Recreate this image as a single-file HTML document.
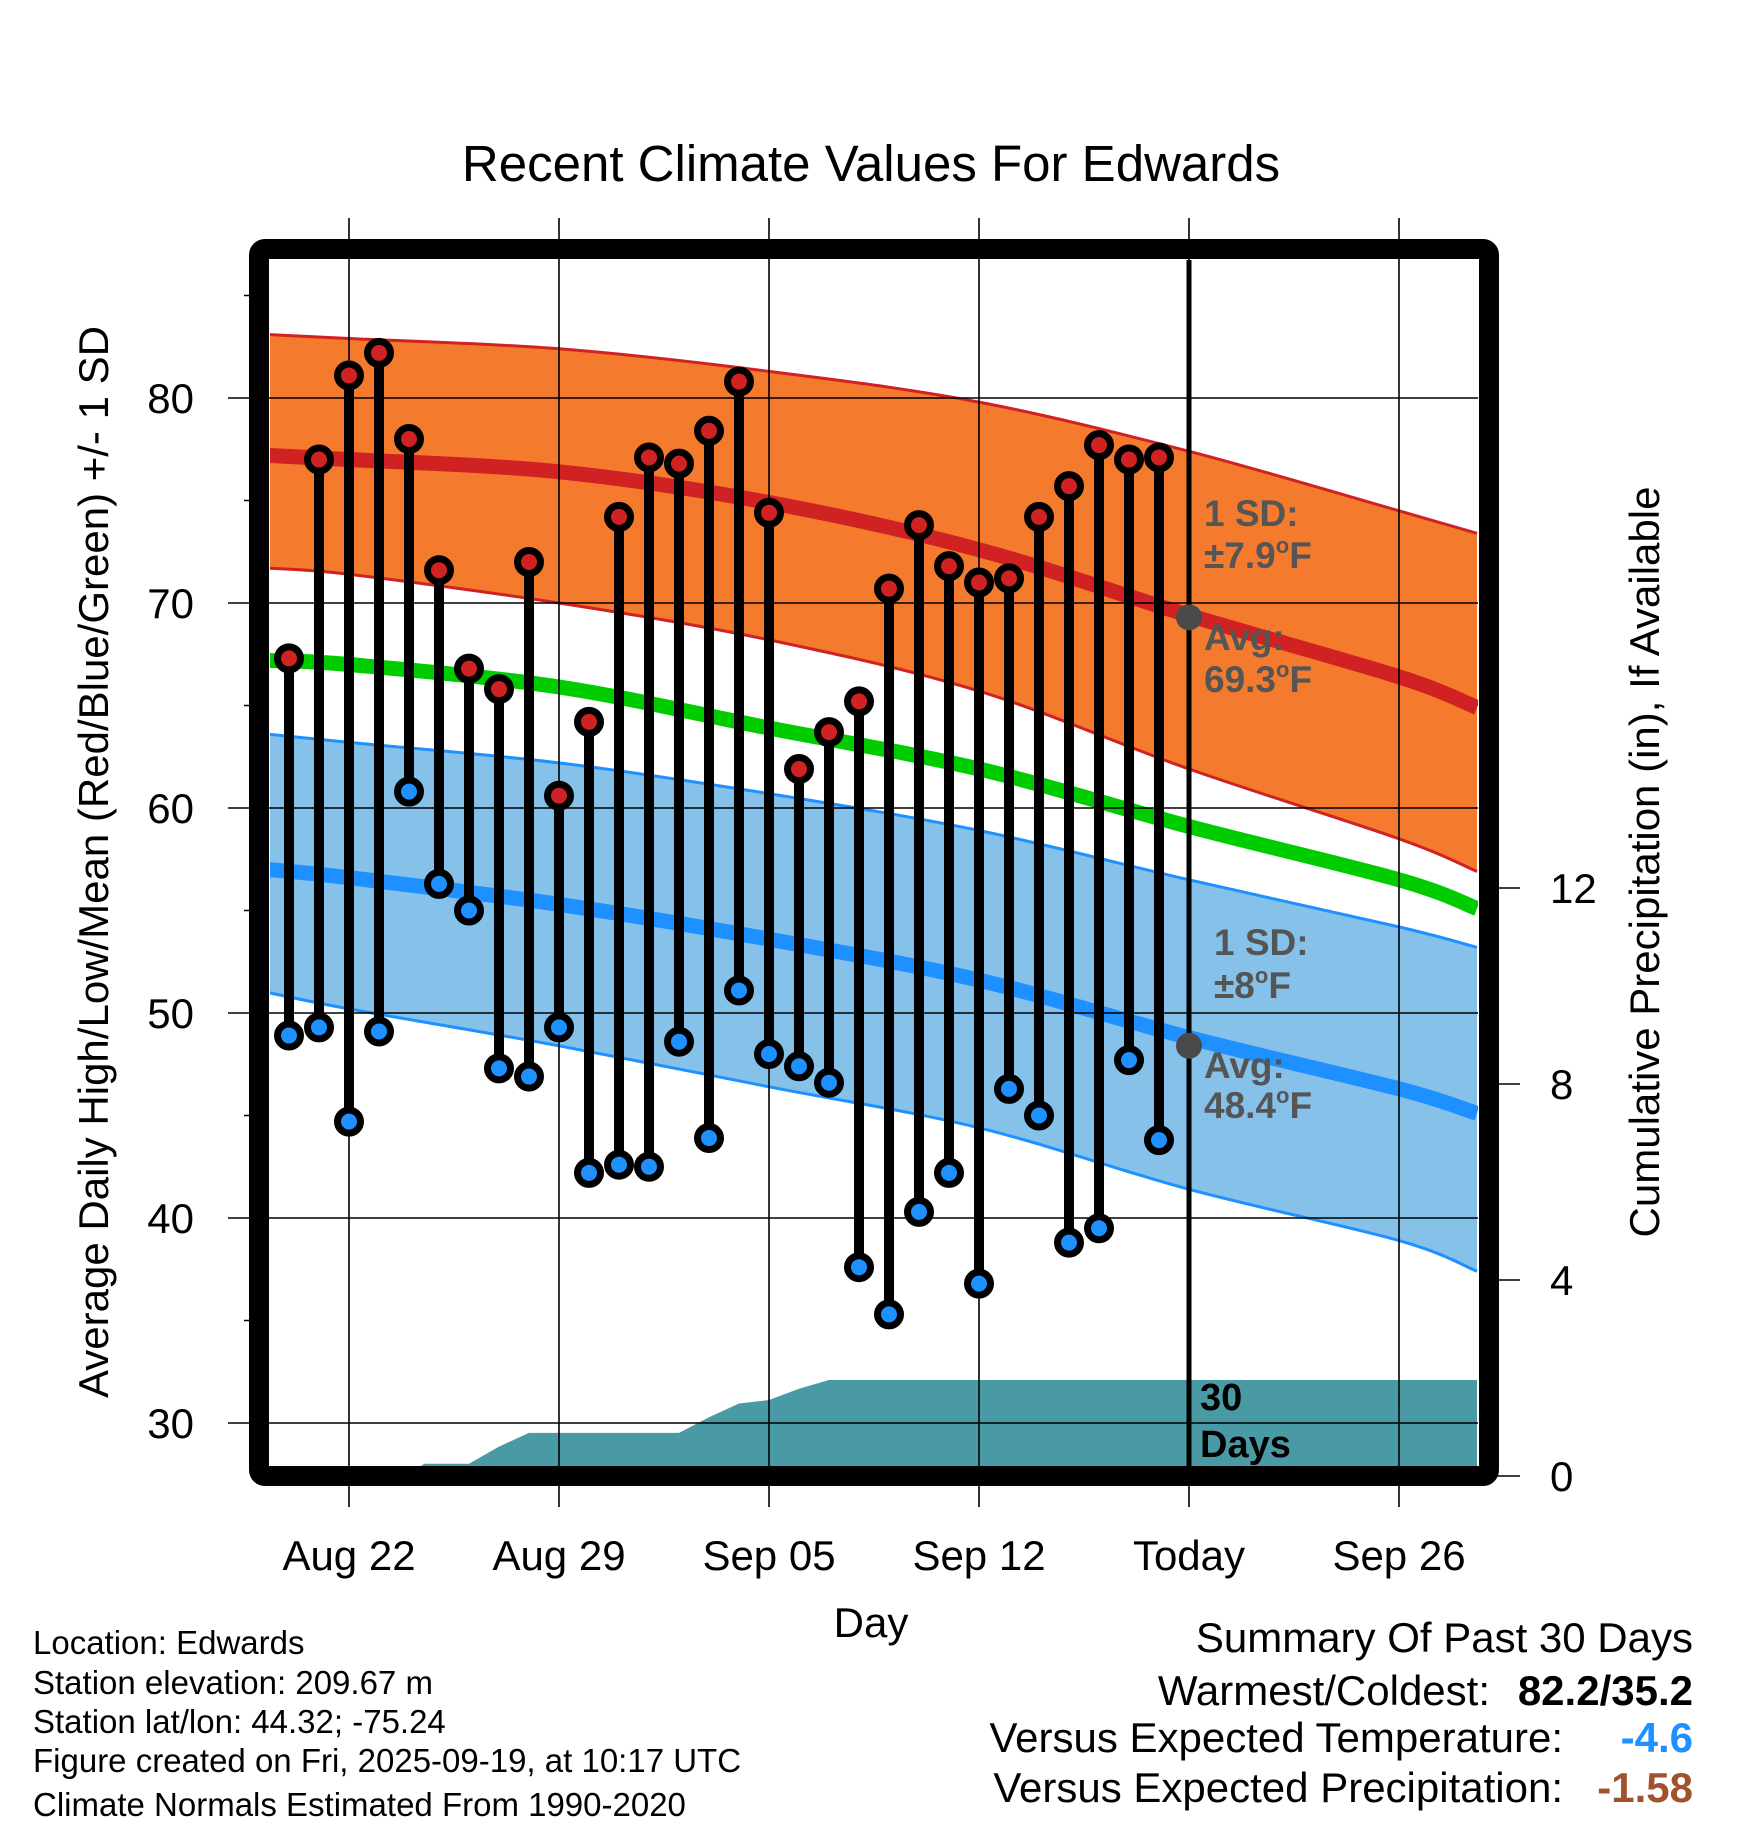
<!DOCTYPE html>
<html><head><meta charset="utf-8"><style>
html,body{margin:0;padding:0;background:#fff;}
svg{display:block;font-family:"Liberation Sans",Arial,sans-serif;}
</style></head><body>
<svg id="chart" width="1748" height="1828" viewBox="0 0 1748 1828" xmlns="http://www.w3.org/2000/svg">
<text x="871" y="181" font-size="51" text-anchor="middle">Recent Climate Values For Edwards</text>
<g id="layer"></g>
</svg>
<script>
const dayOffsets = [-2,-1,0,1,2,3,4,5,6,7,8,9,10,11,12,13,14,15,16,17,18,19,20,21,22,23,24,25,26,27];
const highs = [67.3,77.0,81.1,82.2,78.0,71.6,66.8,65.8,72.0,60.6,64.2,74.2,77.1,76.8,78.4,80.8,74.4,61.9,63.7,65.2,70.7,73.8,71.8,71.0,71.2,74.2,75.7,77.7,77.0,77.1];
const lows = [48.9,49.3,44.7,49.1,60.8,56.3,55.0,47.3,46.9,49.3,42.2,42.6,42.5,48.6,43.9,51.1,48.0,47.4,46.6,37.6,35.3,40.3,42.2,36.8,46.3,45.0,38.8,39.5,47.7,43.8];
const normDays = [-2.7,0,7,14,21,28,35,37.6];
const highAvg = [77.2,77.0,76.4,74.9,72.6,69.4,66.4,64.9];
const highUpper = [83.1,82.9,82.4,81.3,79.8,77.4,74.5,73.4];
const highLower = [71.7,71.4,70.0,68.2,65.7,61.9,58.5,56.9];
const meanAvg = [67.2,67.0,65.9,63.9,61.9,59.1,56.5,55.1];
const lowAvg = [57.0,56.6,55.3,53.6,51.6,48.8,46.3,45.1];
const lowUpper = [63.6,63.2,62.2,60.7,58.9,56.5,54.2,53.2];
const lowLower = [51.0,50.2,48.4,46.4,44.4,41.4,38.9,37.4];
const precipDays = [-2.7,-2,-1,0,1,2,2.5,3,4,5,6,7,8,9,10,11,12,13,14,15,16,17,37.6];
const precipCum = [0,0,0,0,0,0,0.25,0.25,0.25,0.6,0.88,0.88,0.88,0.88,0.88,0.88,1.2,1.48,1.55,1.78,1.96,1.96,1.96];
const tempTicks = [30,40,50,60,70,80];
const precipTicks = [0,4,8,12];
const xTickDays = [0,7,14,21,28,35];
const xTickLabels = ["Aug 22","Aug 29","Sep 05","Sep 12","Today","Sep 26"];
const todayDay = 28;

const NS="http://www.w3.org/2000/svg";
const L=270,R=1478,T=260,B=1466;
function xs(d){return 349+30*d;}
function ys(t){return 398+(80-t)*20.5;}
function yp(v){return 1476-v*49;}
const layer=document.getElementById('layer');
function el(tag,attrs,parent){const e=document.createElementNS(NS,tag);for(const k in attrs)e.setAttribute(k,attrs[k]);(parent||layer).appendChild(e);return e;}
function pts(ds,vs){return ds.map((d,i)=>[xs(d),ys(vs[i])]);}
function smooth(p,start){let s=(start?'M':'L')+p[0][0].toFixed(1)+','+p[0][1].toFixed(1);
  for(let i=0;i<p.length-1;i++){const p0=p[Math.max(0,i-1)],p1=p[i],p2=p[i+1],p3=p[Math.min(p.length-1,i+2)];
    const c1=[p1[0]+(p2[0]-p0[0])/6,p1[1]+(p2[1]-p0[1])/6],c2=[p2[0]-(p3[0]-p1[0])/6,p2[1]-(p3[1]-p1[1])/6];
    s+=' C'+c1[0].toFixed(1)+','+c1[1].toFixed(1)+' '+c2[0].toFixed(1)+','+c2[1].toFixed(1)+' '+p2[0].toFixed(1)+','+p2[1].toFixed(1);}
  return s;}
function line(ds,vs){return smooth(pts(ds,vs),true);}
function band(ds,up,lo){return line(ds,up)+' '+smooth(pts(ds,lo).reverse(),false)+' Z';}

const defs=el('defs',{});
const cp=el('clipPath',{id:'clip'},defs);
el('rect',{x:L,y:T,width:R-L,height:B-T},cp);
const g=el('g',{'clip-path':'url(#clip)'});

let e;
e=el('path',{d:band(normDays,highUpper,highLower),fill:'#f47a2e',stroke:'none'},g);


e=el('path',{d:line(normDays,highUpper),fill:'none',stroke:'#d02222','stroke-width':3},g);


e=el('path',{d:line(normDays,highLower),fill:'none',stroke:'#d02222','stroke-width':3},g);


e=el('path',{d:band(normDays,lowUpper,lowLower),fill:'#85c1e9',stroke:'none'},g);


e=el('path',{d:line(normDays,lowUpper),fill:'none',stroke:'#1e90ff','stroke-width':3},g);


e=el('path',{d:line(normDays,lowLower),fill:'none',stroke:'#1e90ff','stroke-width':3},g);



let pp='M'+xs(precipDays[0])+','+(B+10);
precipDays.forEach((d,i)=>{pp+=' L'+xs(d).toFixed(1)+','+yp(precipCum[i]).toFixed(1);});
pp+=' L'+xs(precipDays[precipDays.length-1])+','+(B+10)+' Z';
e=el('path',{d:pp,fill:'#4a9aa5'},g);



e=el('path',{d:line(normDays,highAvg),fill:'none',stroke:'#d02222','stroke-width':15},g);


e=el('path',{d:line(normDays,meanAvg),fill:'none',stroke:'#00cc00','stroke-width':15},g);


e=el('path',{d:line(normDays,lowAvg),fill:'none',stroke:'#1e90ff','stroke-width':15},g);



tempTicks.forEach(t=>{
  e=el('line',{x1:228,x2:R,y1:ys(t),y2:ys(t),stroke:'#000','stroke-width':1.6});
  
  
  e=el('text',{x:194,y:ys(t)+15,'font-size':42,'text-anchor':'end'});
  e.textContent=t;
  
  
});
for(let t=35;t<=85;t+=10){
  e=el('line',{x1:244,x2:262,y1:ys(t),y2:ys(t),stroke:'#000','stroke-width':1.6});
  
  
}
xTickDays.forEach((d,i)=>{
  e=el('line',{x1:xs(d),x2:xs(d),y1:218,y2:1507,stroke:'#000','stroke-width':1.6});
  
  
  e=el('text',{x:xs(d),y:1570,'font-size':42,'text-anchor':'middle'});
  e.textContent=xTickLabels[i];
  
  
});
precipTicks.forEach(v=>{
  e=el('line',{x1:1489,x2:1520,y1:yp(v),y2:yp(v),stroke:'#000','stroke-width':1.6});
  
  
  e=el('text',{x:1550,y:yp(v)+15,'font-size':42});
  e.textContent=v;
  
  
});

e=el('line',{x1:xs(todayDay),x2:xs(todayDay),y1:T,y2:B,stroke:'#000','stroke-width':5});



dayOffsets.forEach((d,i)=>{
  e=el('line',{x1:xs(d),x2:xs(d),y1:ys(highs[i]),y2:ys(lows[i]),stroke:'#000','stroke-width':10});
  
  
});
dayOffsets.forEach((d,i)=>{
  e=el('circle',{cx:xs(d),cy:ys(highs[i]),r:11.5,fill:'#d02222',stroke:'#000','stroke-width':7});
  
  
  e=el('circle',{cx:xs(d),cy:ys(lows[i]),r:11.5,fill:'#1e90ff',stroke:'#000','stroke-width':7});
  
  
});

e=el('circle',{cx:xs(todayDay),cy:ys(69.3),r:13,fill:'#4a4a4a'});


e=el('circle',{cx:xs(todayDay),cy:ys(48.4),r:13,fill:'#4a4a4a'});



e=el('rect',{x:259,y:249,width:1230,height:1227,fill:'none',stroke:'#000','stroke-width':20,rx:6});


</script>
<svg style="position:absolute;left:0;top:0" width="1748" height="1828" xmlns="http://www.w3.org/2000/svg" font-family="Liberation Sans, Arial, sans-serif">
<g font-weight="bold" font-size="37" fill="#555">
<text x="1204" y="526">1 SD:</text>
<text x="1204" y="568">±7.9<tspan font-size="22" dy="-15">o</tspan><tspan dy="15">F</tspan></text>
<text x="1204" y="650">Avg:</text>
<text x="1204" y="692">69.3<tspan font-size="22" dy="-15">o</tspan><tspan dy="15">F</tspan></text>
<text x="1214" y="955">1 SD:</text>
<text x="1214" y="998">±8<tspan font-size="22" dy="-15">o</tspan><tspan dy="15">F</tspan></text>
<text x="1204" y="1078">Avg:</text>
<text x="1204" y="1118">48.4<tspan font-size="22" dy="-15">o</tspan><tspan dy="15">F</tspan></text>
</g>
<g font-weight="bold" font-size="38" fill="#000">
<text x="1200" y="1410">30</text>
<text x="1200" y="1457">Days</text>
</g>
<text x="871" y="1637" font-size="42" text-anchor="middle">Day</text>
<text transform="translate(108,862) rotate(-90)" font-size="42" text-anchor="middle">Average Daily High/Low/Mean (Red/Blue/Green) +/- 1 SD</text>
<text transform="translate(1659,862) rotate(-90)" font-size="42" text-anchor="middle">Cumulative Precipitation (in), If Available</text>
<g font-size="33" fill="#000">
<text x="33" y="1654">Location: Edwards</text>
<text x="33" y="1694">Station elevation: 209.67 m</text>
<text x="33" y="1733">Station lat/lon: 44.32; -75.24</text>
<text x="33" y="1772">Figure created on Fri, 2025-09-19, at 10:17 UTC</text>
<text x="33" y="1816">Climate Normals Estimated From 1990-2020</text>
</g>
<g font-size="42" fill="#000">
<text x="1693" y="1652" text-anchor="end">Summary Of Past 30 Days</text>
<text x="1490" y="1705" text-anchor="end">Warmest/Coldest:</text>
<text x="1693" y="1705" text-anchor="end" font-weight="bold">82.2/35.2</text>
<text x="1563" y="1752" text-anchor="end">Versus Expected Temperature:</text>
<text x="1693" y="1752" text-anchor="end" font-weight="bold" fill="#1e90ff">-4.6</text>
<text x="1563" y="1802" text-anchor="end">Versus Expected Precipitation:</text>
<text x="1693" y="1802" text-anchor="end" font-weight="bold" fill="#a0522d">-1.58</text>
</g>
</svg>
</body></html>
